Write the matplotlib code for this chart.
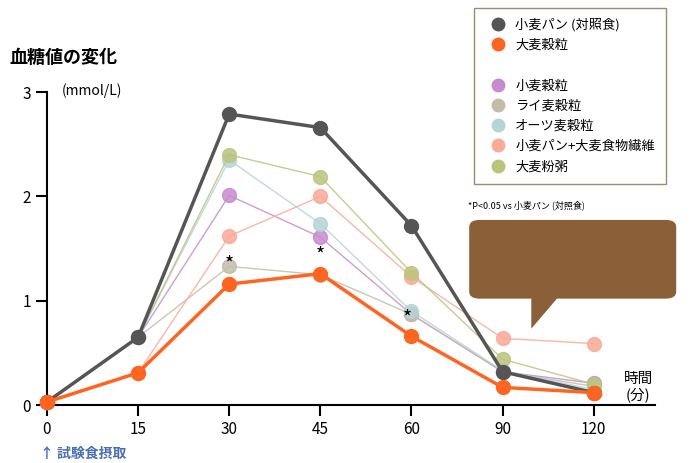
import numpy as np
import matplotlib.pyplot as plt
from matplotlib.patches import FancyBboxPatch, Polygon
from matplotlib.lines import Line2D

plt.rcParams["font.family"] = "Noto Sans CJK JP"

times = ["0", "15", "30", "45", "60", "90", "120"]
control = [0.03, 0.65, 2.79, 2.66, 1.72, 0.32, 0.12]
barley = [0.03, 0.31, 1.16, 1.26, 0.66, 0.17, 0.12]
wheat = [0.03, 0.65, 2.01, 1.61, 0.87, 0.32, 0.21]
rye = [0.03, 0.65, 1.33, 1.25, 0.87, 0.32, 0.18]
oats = [0.03, 0.65, 2.35, 1.74, 0.90, 0.33, 0.15]
fiber = [0.03, 0.31, 1.62, 2.00, 1.23, 0.64, 0.59]
porridge = [0.03, 0.65, 2.40, 2.19, 1.27, 0.44, 0.20]

fig = plt.figure(figsize=(6.9, 4.63), dpi=100)
ax = fig.add_axes([0.068, 0.125, 0.881, 0.676])
x = np.arange(len(times))

thin = [(wheat, "#c88ad0", "小麦穀粒"), (rye, "#c4bcaa", "ライ麦穀粒"),
        (oats, "#b4d4d6", "オーツ麦穀粒"), (fiber, "#f9aa98", "小麦パン+大麦食物繊維"),
        (porridge, "#bcc47c", "大麦粉粥")]
for vals, c, lab in thin:
    ax.plot(x, vals, "-o", color=c, lw=1, ms=10, alpha=0.85, zorder=2, clip_on=False)
ax.plot(x, control, "-o", color="#555555", lw=2.5, ms=10, zorder=4, clip_on=False)
ax.plot(x, barley, "-o", color="#ff6420", lw=2.5, ms=10, zorder=4, clip_on=False)

for xi, yi in [(2.0, 1.24), (3.0, 1.33), (3.95, 0.72)]:
    ax.text(xi, yi, "*", ha="center", va="bottom", fontsize=14)

ax.set_xlim(0, 6.67)
ax.set_ylim(0, 3)
ax.set_xticks(x)
ax.set_xticklabels(times, fontsize=11)
ax.set_yticks([0, 1, 2, 3])
ax.tick_params(length=8, width=1.5, labelsize=11)
for s in ["top", "right"]:
    ax.spines[s].set_visible(False)
for s in ["left", "bottom"]:
    ax.spines[s].set_linewidth(1.5)

fig.text(0.014, 0.865, "血糖値の変化", fontsize=13, fontweight="bold")
fig.text(0.09, 0.795, "(mmol/L)", fontsize=10)
fig.text(0.925, 0.135, "時間\n(分)", fontsize=10.5, ha="center")
fig.text(0.058, 0.01, "↑ 試験食摂取", fontsize=10, fontweight="bold", color="#4a6fb0")

handles = [Line2D([], [], marker="o", ls="", color="#555555", ms=9),
           Line2D([], [], marker="o", ls="", color="#ff6420", ms=9),
           Line2D([], [], ls="")]
labels = ["小麦パン (対照食)", "大麦穀粒", ""]
for vals, c, lab in thin:
    handles.append(Line2D([], [], marker="o", ls="", color=c, ms=9))
    labels.append(lab)
leg = fig.legend(handles, labels, loc="upper left", bbox_to_anchor=(0.678, 0.998),
                 fontsize=9.5, frameon=True, fancybox=False, edgecolor="#8b6a4a",
                 handletextpad=0.3, labelspacing=0.55, borderpad=0.8)
leg.get_frame().set_linewidth(1)
fig.text(0.678, 0.55, "*P<0.05 vs 小麦パン (対照食)", fontsize=6.5)

box = FancyBboxPatch((0.68, 0.355), 0.30, 0.17, boxstyle="round,pad=0,rounding_size=0.015",
                     transform=fig.transFigure, fc="#8b6039", ec="none")
fig.patches.append(box)
tail = Polygon([(0.77, 0.36), (0.81, 0.36), (0.77, 0.29)], closed=True,
               transform=fig.transFigure, fc="#8b6039", ec="none")
fig.patches.append(tail)

fig.savefig("out.png")
